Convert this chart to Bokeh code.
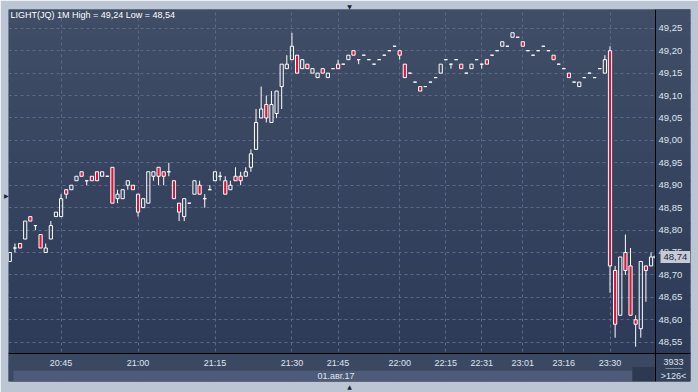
import math
from bokeh.plotting import figure
from bokeh.models import (LinearAxis, FixedTicker, CustomJSTickFormatter, Grid,
                          BoxAnnotation, Label, Range1d, ColumnDataSource)
from bokeh.embed import file_html
from bokeh.resources import INLINE

# ---------------- data ----------------
opens = [48.73, 48.76, 48.77, 48.78, 48.83, 48.81, 48.79, 48.75, 48.78, 48.83,
         48.83, 48.89, 48.89, 48.91, 48.93, 48.91, 48.92, 48.93, 48.92, 48.92,
         48.94, 48.87, 48.87, 48.90, 48.90, 48.88, 48.85, 48.86, 48.92, 48.94,
         48.93, 48.93, 48.91, 48.86, 48.83, 48.86, 48.88, 48.90, 48.87, 48.89,
         48.91, 48.92, 48.91, 48.89, 48.92, 48.92, 48.92, 48.94, 48.98, 49.05,
         49.08, 49.04, 49.06, 49.12, 49.16, 49.18, 49.19, 49.16, 49.17, 49.15,
         49.14, 49.16, 49.14, 49.16, 49.17, 49.17, 49.18, 49.20, 49.18, 49.19,
         49.18, 49.17, 49.18, 49.19, 49.20, 49.21, 49.20, 49.17, 49.15, 49.13,
         49.12, 49.12, 49.13, 49.14, 49.15, 49.18, 49.17, 49.18, 49.17, 49.15,
         49.16, 49.18, 49.17, 49.18, 49.19, 49.20, 49.21, 49.21, 49.23, 49.23,
         49.22, 49.20, 49.19, 49.20, 49.21, 49.20, 49.19, 49.17, 49.16, 49.15,
         49.13, 49.12, 49.14, 49.15, 49.14, 49.16, 49.15, 49.20, 48.71, 48.61,
         48.75, 48.72, 48.60, 48.58, 48.72, 48.72]
highs = [48.75, 48.77, 48.77, 48.82, 48.83, 48.81, 48.79, 48.77, 48.82, 48.84,
         48.88, 48.89, 48.90, 48.92, 48.93, 48.91, 48.92, 48.93, 48.93, 48.92,
         48.94, 48.89, 48.89, 48.91, 48.90, 48.88, 48.87, 48.93, 48.93, 48.94,
         48.93, 48.95, 48.91, 48.86, 48.87, 48.86, 48.91, 48.91, 48.88, 48.90,
         48.93, 48.93, 48.92, 48.91, 48.94, 48.93, 48.94, 48.98, 49.07, 49.12,
         49.10, 49.11, 49.11, 49.17, 49.19, 49.24, 49.19, 49.18, 49.17, 49.16,
         49.15, 49.16, 49.15, 49.16, 49.18, 49.17, 49.19, 49.20, 49.18, 49.19,
         49.18, 49.17, 49.18, 49.19, 49.20, 49.21, 49.20, 49.17, 49.15, 49.13,
         49.12, 49.12, 49.13, 49.14, 49.17, 49.18, 49.17, 49.18, 49.17, 49.15,
         49.17, 49.18, 49.17, 49.18, 49.19, 49.20, 49.22, 49.21, 49.24, 49.23,
         49.22, 49.20, 49.19, 49.20, 49.21, 49.20, 49.19, 49.17, 49.16, 49.15,
         49.13, 49.13, 49.14, 49.15, 49.14, 49.16, 49.19, 49.21, 48.72, 48.74,
         48.79, 48.76, 48.61, 48.73, 48.72, 48.75]
lows = [48.73, 48.75, 48.76, 48.78, 48.82, 48.80, 48.76, 48.75, 48.78, 48.83,
        48.83, 48.87, 48.89, 48.91, 48.92, 48.90, 48.91, 48.91, 48.92, 48.92,
        48.86, 48.86, 48.87, 48.89, 48.89, 48.83, 48.85, 48.86, 48.91, 48.90,
        48.90, 48.92, 48.87, 48.82, 48.82, 48.86, 48.88, 48.88, 48.85, 48.89,
        48.91, 48.91, 48.88, 48.89, 48.91, 48.90, 48.92, 48.93, 48.98, 49.05,
        49.04, 49.04, 49.05, 49.07, 49.16, 49.18, 49.15, 49.16, 49.16, 49.15,
        49.14, 49.15, 49.14, 49.16, 49.16, 49.17, 49.18, 49.19, 49.17, 49.19,
        49.18, 49.17, 49.18, 49.19, 49.20, 49.21, 49.18, 49.14, 49.15, 49.13,
        49.11, 49.12, 49.13, 49.14, 49.15, 49.18, 49.16, 49.18, 49.16, 49.15,
        49.16, 49.18, 49.16, 49.17, 49.19, 49.20, 49.21, 49.21, 49.23, 49.23,
        49.21, 49.20, 49.19, 49.20, 49.21, 49.20, 49.18, 49.17, 49.16, 49.14,
        49.13, 49.12, 49.14, 49.15, 49.14, 49.16, 49.15, 48.66, 48.56, 48.61,
        48.70, 48.61, 48.54, 48.56, 48.64, 48.72]
closes = [48.75, 48.76, 48.76, 48.82, 48.82, 48.81, 48.76, 48.76, 48.81, 48.84,
          48.87, 48.88, 48.90, 48.92, 48.92, 48.91, 48.91, 48.91, 48.93, 48.92,
          48.86, 48.88, 48.89, 48.91, 48.89, 48.84, 48.87, 48.93, 48.93, 48.92,
          48.92, 48.93, 48.87, 48.84, 48.87, 48.86, 48.91, 48.88, 48.87, 48.89,
          48.93, 48.92, 48.88, 48.90, 48.91, 48.91, 48.93, 48.97, 49.04, 49.07,
          49.05, 49.08, 49.11, 49.17, 49.17, 49.21, 49.15, 49.18, 49.16, 49.16,
          49.15, 49.15, 49.15, 49.16, 49.16, 49.17, 49.19, 49.19, 49.18, 49.19,
          49.18, 49.17, 49.18, 49.19, 49.20, 49.21, 49.19, 49.14, 49.15, 49.13,
          49.11, 49.12, 49.13, 49.14, 49.17, 49.18, 49.17, 49.18, 49.16, 49.15,
          49.17, 49.18, 49.17, 49.17, 49.19, 49.20, 49.22, 49.21, 49.24, 49.23,
          49.21, 49.20, 49.19, 49.20, 49.21, 49.20, 49.18, 49.17, 49.16, 49.14,
          49.13, 49.13, 49.14, 49.15, 49.14, 49.16, 49.18, 48.72, 48.59, 48.74,
          48.71, 48.61, 48.59, 48.73, 48.71, 48.74]

time_ticks = [10, 25, 40, 55, 64, 76, 85, 92, 100, 108, 117]
time_labels = ["20:45", "21:00", "21:15", "21:30", "21:45", "22:00",
               "22:15", "22:31", "23:01", "23:16", "23:30"]
price_ticks = [48.55, 48.60, 48.65, 48.70, 48.75, 48.80, 48.85, 48.90,
               48.95, 49.00, 49.05, 49.10, 49.15, 49.20, 49.25]
date_label = "01.авг.17"
title_text = "LIGHT(JQ) 1M High = 49,24 Low = 48,54"
last_price_text = "48,74"
corner_top = "3933"
corner_bottom = ">126<"

# ---------------- layout / styling ----------------
RED = "#dc1438"
TXT = "#dfe5ee"
FONT = "Liberation Sans"
BG_TOP = (64, 77, 102)
BG_BOT = (43, 57, 87)
FRAME_BORDER = "#bcc5d3"

X0, X1 = -0.2534, 132.69          # frame spans the whole dark panel
Y0, Y1 = 48.4623, 49.2919
YAXIS_AT = 125.87                 # price axis line position
XAXIS_AT = 48.5241                # time axis line position
DATE_TOP = 48.4865                # top of the date strip
DATE_L, DATE_R = 0.72, 121.38     # date strip extent
SCROLL_L = 121.38

n = len(opens)
idx = list(range(n))
body_top = [max(o, c) for o, c in zip(opens, closes)]
body_bot = [min(o, c) for o, c in zip(opens, closes)]
fill_alpha = [1.0 if c < o else 0.0 for o, c in zip(opens, closes)]

src = ColumnDataSource(dict(x=idx, top=body_top, bottom=body_bot, high=highs,
                            low=lows, fa=fill_alpha))

p = figure(width=698, height=392, output_backend="svg", toolbar_location=None,
           x_axis_location=None, y_axis_location=None,
           x_range=Range1d(X0, X1), y_range=Range1d(Y0, Y1),
           min_border_left=8, min_border_right=8, min_border_top=7,
           min_border_bottom=9,
           background_fill_color="#36435e", border_fill_color=FRAME_BORDER,
           outline_line_color=None)
p.center = [r for r in p.center if not isinstance(r, Grid)]

# small decorative arrow on the top border
p.title.text = "▼"
p.title.align = "center"
p.title.text_font = "DejaVu Sans"
p.title.text_font_size = "6px"
p.title.text_color = "#1b2231"
p.title.standoff = 0
p.title.offset = 0


def band_color(t):
    c = tuple(int(round(BG_BOT[j] + (BG_TOP[j] - BG_BOT[j]) * t)) for j in range(3))
    return "#%02x%02x%02x" % c


# vertical gradient of the chart background (and again over the price axis strip)
nb = 26
for k in range(nb):
    b = Y0 + (Y1 - Y0) * k / nb
    t = Y0 + (Y1 - Y0) * (k + 1) / nb + 0.002
    col = band_color(k / (nb - 1))
    p.add_layout(BoxAnnotation(bottom=b, top=t, fill_color=col, fill_alpha=1,
                               line_color=None, level="image"))
    if t > XAXIS_AT:
        p.add_layout(BoxAnnotation(left=YAXIS_AT, bottom=max(b, XAXIS_AT), top=t,
                                   fill_color=col, fill_alpha=1,
                                   line_color=None, level="glyph"))

ticker_y = FixedTicker(ticks=price_ticks)
ticker_x = FixedTicker(ticks=time_ticks)
p.add_layout(Grid(dimension=1, ticker=ticker_y, grid_line_color="#5b6a88",
                  grid_line_dash="3 3", grid_line_width=1))
p.add_layout(Grid(dimension=0, ticker=ticker_x, grid_line_color="#5b6a88",
                  grid_line_dash="3 3", grid_line_width=1))

# strips below the chart: time row, date row, scroll box, corner box
p.add_layout(BoxAnnotation(top=XAXIS_AT, fill_color="#3b4862", fill_alpha=1,
                           line_color=None, level="glyph"))
p.add_layout(BoxAnnotation(left=DATE_L, right=DATE_R, top=DATE_TOP,
                           fill_color="#4d5b79", fill_alpha=1,
                           line_color=None, level="glyph"))
p.add_layout(BoxAnnotation(left=SCROLL_L, right=YAXIS_AT, top=DATE_TOP + 0.008,
                           fill_color="#2d3950", fill_alpha=1,
                           line_color=None, level="glyph"))
p.add_layout(BoxAnnotation(left=YAXIS_AT, top=XAXIS_AT, fill_color="#34415b",
                           fill_alpha=1, line_color=None, level="glyph"))

# axes drawn at fixed positions inside the panel
yax = LinearAxis(ticker=ticker_y, fixed_location=YAXIS_AT,
                 formatter=CustomJSTickFormatter(code="return tick.toFixed(2).replace('.', ',');"),
                 axis_line_color="black", major_tick_line_color=None,
                 minor_tick_line_color=None, major_tick_in=0, major_tick_out=0,
                 major_label_text_color=TXT, major_label_text_font_size="9.5px",
                 major_label_text_font=FONT, major_label_standoff=3)
p.add_layout(yax, "right")

xax = LinearAxis(ticker=ticker_x, fixed_location=XAXIS_AT,
                 major_label_overrides=dict(zip(time_ticks, time_labels)),
                 axis_line_color="black", major_tick_line_color=None,
                 minor_tick_line_color=None, major_tick_in=0, major_tick_out=0,
                 major_label_text_color=TXT, major_label_text_font_size="9px",
                 major_label_text_font=FONT, major_label_standoff=4)
p.add_layout(xax, "below")

# decorative arrows on the left and bottom borders (empty axes with a label)
lax = LinearAxis(ticker=FixedTicker(ticks=[]), axis_label="▶",
                 axis_label_orientation="horizontal", axis_label_standoff=0,
                 axis_label_text_font="DejaVu Sans", axis_label_text_font_size="6px",
                 axis_label_text_color="#1b2231", axis_label_text_font_style="normal",
                 axis_line_color=None, major_tick_line_color=None,
                 minor_tick_line_color=None, major_label_text_font_size="0px")
p.add_layout(lax, "left")
bax = LinearAxis(ticker=FixedTicker(ticks=[]), axis_label="▲",
                 axis_label_standoff=1,
                 axis_label_text_font="DejaVu Sans", axis_label_text_font_size="6px",
                 axis_label_text_color="#1b2231", axis_label_text_font_style="normal",
                 axis_line_color=None, major_tick_line_color=None,
                 minor_tick_line_color=None, major_label_text_font_size="0px")
p.add_layout(bax, "below")

# candles
p.segment(x0="x", y0="top", x1="x", y1="high", source=src, line_color="white", line_width=1)
p.segment(x0="x", y0="bottom", x1="x", y1="low", source=src, line_color="white", line_width=1)
p.vbar(x="x", width=0.62, top="top", bottom="bottom", source=src,
       fill_color=RED, fill_alpha="fa", line_color="white", line_width=1)

# title inside the chart
p.add_layout(Label(x=2, y=372, x_units="screen", y_units="screen", text=title_text,
                   text_baseline="top", text_font_size="9px", text_font=FONT,
                   text_color="white"))

# date label on the date strip
p.add_layout(Label(x=327.5, y=6, x_units="screen", y_units="screen", text=date_label,
                   text_align="center", text_baseline="middle",
                   text_font_size="9px", text_font=FONT, text_color=TXT))

# last price marker on the price axis
p.scatter(x=[YAXIS_AT + 0.35], y=[closes[-1]], marker="triangle", angle=math.pi / 2,
          size=9, fill_color="#c6ccd6", line_color=None)
p.add_layout(Label(x=652, y=closes[-1], x_units="screen", y_units="data",
                   text=last_price_text, text_baseline="middle",
                   text_font_size="9.5px", text_font=FONT, text_color="#1a2540",
                   background_fill_color="#c6ccd6", padding=3))

# corner texts
p.add_layout(Label(x=665, y=20, x_units="screen", y_units="screen", text=corner_top,
                   text_align="center", text_baseline="middle",
                   text_font_size="9px", text_font=FONT, text_color=TXT))
p.add_layout(BoxAnnotation(left=657, right=674, bottom=12.5, top=13.5,
                           left_units="screen", right_units="screen",
                           bottom_units="screen", top_units="screen",
                           fill_color="#7d889c", fill_alpha=1, line_color=None))
p.add_layout(Label(x=665, y=6, x_units="screen", y_units="screen", text=corner_bottom,
                   text_align="center", text_baseline="middle",
                   text_font_size="9px", text_font=FONT, text_color=TXT))

open("out.html", "w").write(file_html(p, INLINE))
